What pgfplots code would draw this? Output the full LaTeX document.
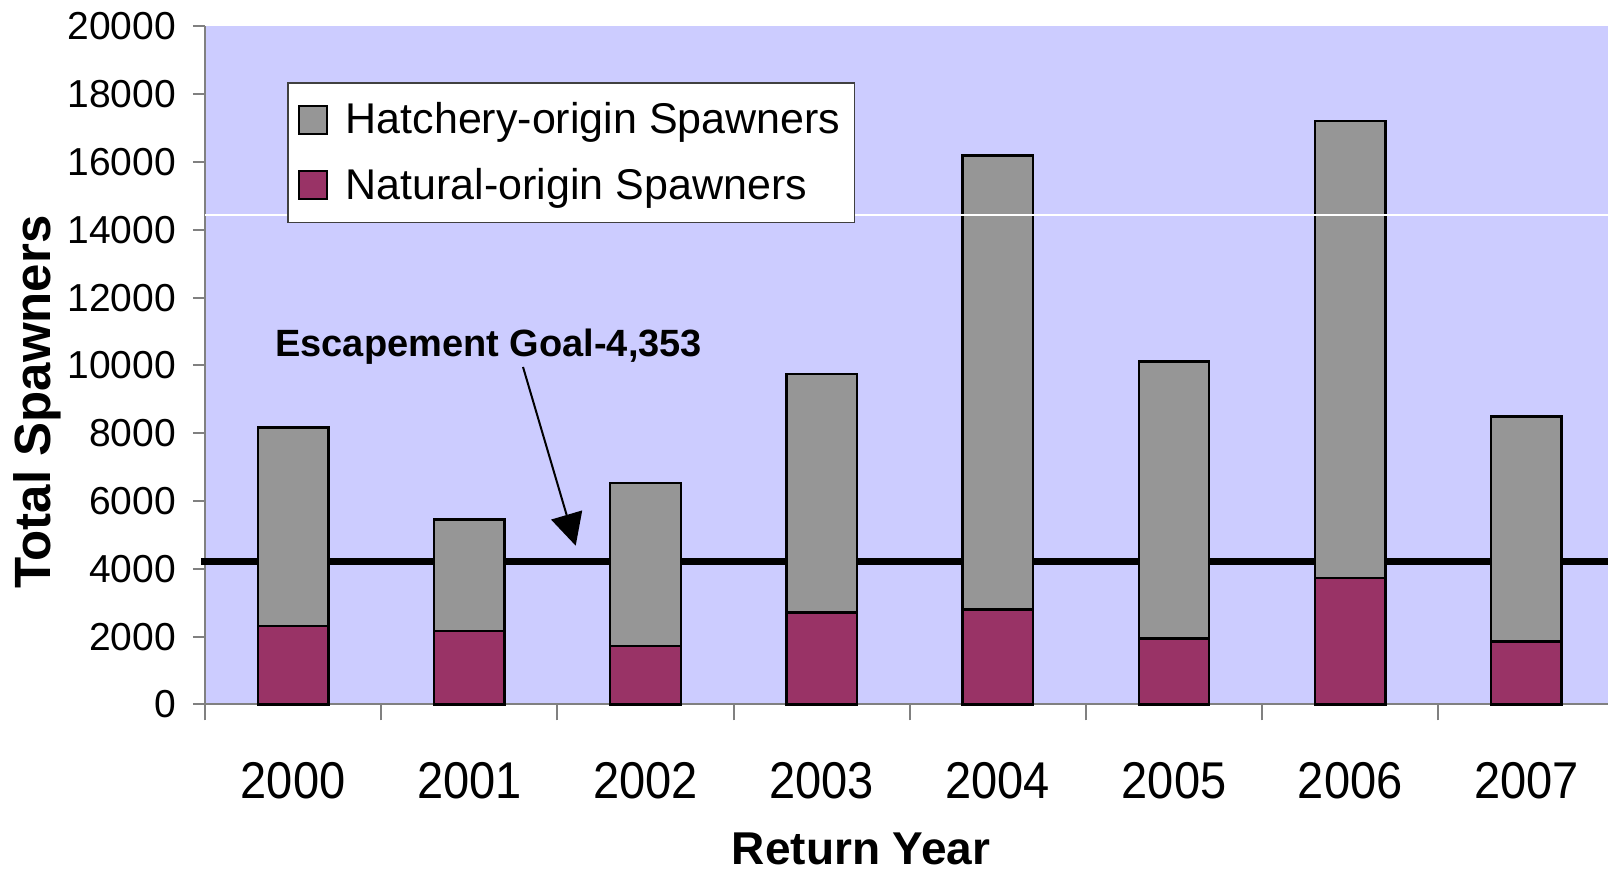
\documentclass[border=0pt]{standalone}
\usepackage{fontspec}
\setmainfont{Liberation Sans}
\usepackage{pgfplots}
\pgfplotsset{compat=1.18}
\usetikzlibrary{arrows.meta}
\definecolor{bgl}{HTML}{CCCCFF}
\definecolor{hatch}{HTML}{969696}
\definecolor{nat}{HTML}{993366}
\definecolor{axgray}{HTML}{808080}
\begin{document}
\begin{tikzpicture}
\begin{axis}[
  at={(0,0)}, anchor=south west,
  scale only axis, width=701.5pt, height=339.1pt,
  xmin=-0.5, xmax=7.463, ymin=0, ymax=20000,
  clip=false,
  ybar stacked, bar width=0.4,
  axis x line=bottom, axis y line=left,
  axis line style={axgray, line width=1pt, -},
  axis background/.style={fill=bgl},
  xtick={0,1,2,3,4,5,6,7},
  xticklabels={\scalebox{1}[1.1]{2000},\scalebox{1}[1.1]{2001},\scalebox{1}[1.1]{2002},\scalebox{1}[1.1]{2003},\scalebox{1}[1.1]{2004},\scalebox{1}[1.1]{2005},\scalebox{1}[1.1]{2006},\scalebox{1}[1.1]{2007}},
  major x tick style={draw=none},
  minor xtick={-0.5,0.5,1.5,2.5,3.5,4.5,5.5,6.5,7.5},
  minor tick length=8pt,
  ytick={0,2000,...,20000},
  major tick length=6pt,
  tick align=outside,
  tick style={axgray, line width=1pt},
  scaled y ticks=false,
  /pgf/number format/.cd, set thousands separator={}, assume math mode=true,
  /pgfplots/.cd,
  yticklabel style={anchor=east, inner sep=0pt, xshift=-8.3pt, font=\fontsize{19.5}{22}\selectfont},
  xticklabel style={anchor=center, inner sep=0pt, yshift=-32.3pt, font=\fontsize{23.5}{26}\selectfont},
  ylabel={Total Spawners},
  ylabel style={at={(rel axis cs:-0.1198,0.446)}, anchor=center, rotate=0, font=\bfseries\fontsize{25.5}{28}\selectfont},
  xlabel={Return Year},
  xlabel style={at={(rel axis cs:0.4676,-0.213)}, anchor=center, font=\bfseries\fontsize{23}{26}\selectfont},
  legend style={at={(rel axis cs:0.0584,0.918)}, anchor=north west, draw=black!75, line width=0.8pt, fill=white,
    font=\fontsize{21.5}{24}\selectfont, inner xsep=5pt, inner ysep=8pt, row sep=11.7pt, column sep=7pt, cells={anchor=west}},
  legend image code/.code={\draw[#1,draw=black,line width=1pt] (0pt,-7pt) rectangle (14pt,7pt);},
  reverse legend,
]
\draw[white, line width=0.8pt] (axis cs:-0.5,14435) -- (axis cs:7.463,14435);
\addplot[fill=nat, draw=black, line width=1.2pt] coordinates {
(0,2320) (1,2170) (2,1720) (3,2710) (4,2800) (5,1950) (6,3730) (7,1860)};
\addlegendentry{Natural-origin Spawners}
\addplot[fill=hatch, draw=black, line width=1.2pt] coordinates {
(0,5850) (1,3280) (2,4810) (3,7030) (4,13390) (5,8170) (6,13470) (7,6630)};
\addlegendentry{Hatchery-origin Spawners}
\draw[black, line width=3.6pt] (axis cs:-0.52,4211) -- (axis cs:7.463,4211);
\node[anchor=west, inner sep=0pt, font=\bfseries\fontsize{19}{22}\selectfont] at (axis cs:-0.1027,10543) {Escapement Goal-4,353};
\draw[-{Triangle[length=16pt,width=16pt]}, line width=1pt] (axis cs:1.305,9953) -- (axis cs:1.604,4683);
\end{axis}
\pgfresetboundingbox
\path[use as bounding box] (-102.5pt,-83.75pt) rectangle (701.5pt,352.25pt);
\end{tikzpicture}
\end{document}
